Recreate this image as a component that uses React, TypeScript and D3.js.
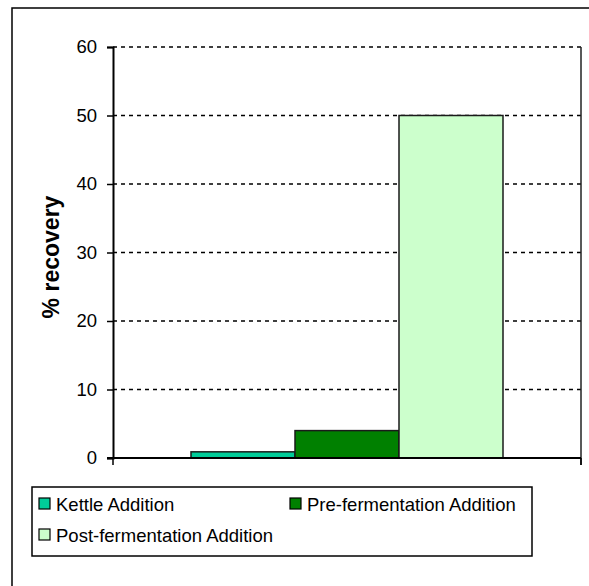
import React, { useEffect, useRef } from "react";
import * as d3 from "d3";

const categories = [""];
const seriesNames = [
  "Kettle Addition",
  "Pre-fermentation Addition",
  "Post-fermentation Addition",
];
const seriesValues = [0.9, 4.0, 50];
const seriesColors = ["#00CC99", "#008000", "#CCFFCC"];
const yTicks = [0, 10, 20, 30, 40, 50, 60];

const App = () => {
  const ref: any = useRef(null);
  const width = 589;
  const height = 586;
  const margin = { top: 47, right: 8, bottom: 128, left: 113 };

  useEffect(() => {
    const root = d3.select(ref.current);
    root.selectAll("*").remove();
    const font = "'Liberation Sans', Arial, sans-serif";

    const svg = root
      .append("svg")
      .attr("width", width)
      .attr("height", height)
      .style("position", "absolute")
      .style("left", "0px")
      .style("top", "0px")
      .style("font-family", font);

    svg.append("rect").attr("width", width).attr("height", height).attr("fill", "#fff");

    // outer chart border (runs off the page at right/bottom)
    svg
      .append("rect")
      .attr("x", 12)
      .attr("y", 8)
      .attr("width", 620)
      .attr("height", 620)
      .attr("fill", "none")
      .attr("stroke", "#000")
      .attr("stroke-width", 1.5);

    const x0 = margin.left;
    const x1 = width - margin.right;
    const y0 = height - margin.bottom;

    const yScale = d3.scaleLinear().domain([0, 60]).range([y0, margin.top]);

    const xScale = d3
      .scaleBand()
      .domain(categories)
      .range([x0, x1])
      .paddingInner(0)
      .paddingOuter(0.25);

    const xInner = d3
      .scaleBand()
      .domain(seriesNames)
      .range([0, xScale.bandwidth()])
      .padding(0);

    // gridlines
    svg
      .append("g")
      .selectAll("line")
      .data(yTicks.filter((d) => d > 0))
      .join("line")
      .attr("x1", x0)
      .attr("x2", x1)
      .attr("y1", (d) => yScale(d))
      .attr("y2", (d) => yScale(d))
      .attr("stroke", "#000")
      .attr("stroke-width", 1.5)
      .attr("stroke-dasharray", "4,4");

    // bars
    const groups = svg
      .append("g")
      .selectAll("g")
      .data(categories)
      .join("g")
      .attr("transform", (d) => `translate(${xScale(d)},0)`);

    groups
      .selectAll("rect")
      .data(seriesNames.map((name, i) => ({ name, value: seriesValues[i], color: seriesColors[i] })))
      .join("rect")
      .attr("x", (d) => xInner(d.name) || 0)
      .attr("width", xInner.bandwidth())
      .attr("y", (d) => yScale(d.value))
      .attr("height", (d) => y0 - yScale(d.value))
      .attr("fill", (d) => d.color)
      .attr("stroke", "#1a1a1a")
      .attr("stroke-width", 1.5);

    // right plot border
    svg
      .append("line")
      .attr("x1", x1)
      .attr("x2", x1)
      .attr("y1", margin.top)
      .attr("y2", y0 + 7)
      .attr("stroke", "#222")
      .attr("stroke-width", 1.5);

    // Y axis
    const yAxis = d3
      .axisLeft(yScale)
      .tickValues(yTicks)
      .tickSize(6)
      .tickPadding(10)
      .tickFormat(d3.format("d"));

    const gy = svg
      .append("g")
      .attr("transform", `translate(${x0},0)`)
      .call(yAxis);
    gy.select(".domain").attr("stroke", "#000").attr("stroke-width", 2);
    gy.selectAll(".tick line").attr("stroke", "#000").attr("stroke-width", 1.5);
    gy.selectAll(".tick text")
      .attr("fill", "#000")
      .style("font-size", "18.5px")
      .style("font-family", font);

    // X axis
    svg
      .append("line")
      .attr("x1", x0 - 6)
      .attr("x2", x1)
      .attr("y1", y0)
      .attr("y2", y0)
      .attr("stroke", "#000")
      .attr("stroke-width", 2);
    svg
      .append("g")
      .selectAll("line")
      .data([x0, x1])
      .join("line")
      .attr("x1", (d) => d)
      .attr("x2", (d) => d)
      .attr("y1", y0)
      .attr("y2", y0 + 7)
      .attr("stroke", "#000")
      .attr("stroke-width", 1.5);

    // Y axis label
    svg
      .append("text")
      .attr("transform", `translate(59,257) rotate(-90)`)
      .attr("text-anchor", "middle")
      .style("font-size", "23px")
      .style("font-weight", "bold")
      .text("% recovery");

    // legend
    const legend = svg.append("g");
    legend
      .append("rect")
      .attr("x", 32)
      .attr("y", 487)
      .attr("width", 500)
      .attr("height", 69)
      .attr("fill", "#fff")
      .attr("stroke", "#000")
      .attr("stroke-width", 1.5);

    const legendPos = [
      { x: 39, y: 498 },
      { x: 290, y: 498 },
      { x: 39, y: 529 },
    ];

    const items = legend
      .selectAll("g")
      .data(seriesNames)
      .join("g")
      .attr("transform", (d, i) => `translate(${legendPos[i].x},${legendPos[i].y})`);

    items
      .append("rect")
      .attr("width", 11)
      .attr("height", 11)
      .attr("fill", (d, i) => seriesColors[i])
      .attr("stroke", "#000")
      .attr("stroke-width", 1.2);

    items
      .append("text")
      .attr("x", 17)
      .attr("y", 13)
      .style("font-size", "18.5px")
      .text((d) => d);
  }, []);

  return <div id="chart" ref={ref}></div>;
};

export default App;
